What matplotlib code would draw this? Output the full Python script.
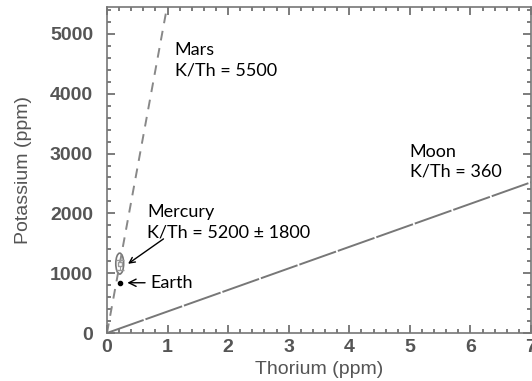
import numpy as np
import matplotlib.pyplot as plt
from matplotlib.patches import Ellipse
from matplotlib.ticker import MultipleLocator

# K/Th ratios of the reference lines
mars_kth = 5500
moon_kth = 360
mercury_kth = 5200
mercury_err = 1800

# Mercury and Earth points (Th ppm, K ppm)
mercury_th, mercury_k = 0.21, 1160
mercury_th_w, mercury_k_h = 0.13, 350
earth_th, earth_k = 0.21, 840

th = np.array([0, 7])

fig = plt.figure(figsize=(5.32, 3.81), dpi=100)
ax = fig.add_axes([107 / 532, 48 / 381, 424 / 532, 326 / 381])

ax.plot(th, th * mars_kth, color="#888888", lw=1.4, ls=(0, (5, 4)))
ax.plot(th, th * moon_kth, color="#777777", lw=1.4, ls=(0, (20, 1)))

ax.add_patch(Ellipse((mercury_th, mercury_k), mercury_th_w, mercury_k_h,
                     fill=False, ec="#777777", lw=1.2))
ax.errorbar([mercury_th], [mercury_k], yerr=[[100], [60]], fmt="s", ms=3,
            color="#999999", mfc="white", capsize=3, lw=0.8)
ax.plot([earth_th], [earth_k], "o", color="black", ms=3)

ann_font = ["Lato", "DejaVu Sans"]
ax.text(1.12, 4560, "Mars\nK/Th = %d" % mars_kth, fontsize=13,
        family=ann_font, va="center", linespacing=1.3)
ax.text(5.0, 2860, "Moon\nK/Th = %d" % moon_kth, fontsize=13,
        family=ann_font, va="center", linespacing=1.3)
ax.text(0.66, 1850, "Mercury\nK/Th = %d \u00b1 %d" % (mercury_kth, mercury_err),
        fontsize=13, family=ann_font, va="center", linespacing=1.3)
ax.annotate("", xy=(0.31, 1130), xytext=(0.97, 1600),
            arrowprops=dict(arrowstyle="->", color="black", lw=1))
ax.annotate("Earth", xy=(0.29, earth_k), xytext=(0.72, earth_k),
            fontsize=13, family=ann_font, va="center",
            arrowprops=dict(arrowstyle="->", color="black", lw=1))

ax.set_xlim(0, 7)
ax.set_ylim(0, 5450)
ax.xaxis.set_major_locator(MultipleLocator(1))
ax.xaxis.set_minor_locator(MultipleLocator(0.2))
ax.yaxis.set_major_locator(MultipleLocator(1000))
ax.yaxis.set_minor_locator(MultipleLocator(200))
ax.tick_params(which="both", direction="in", top=True, right=True,
               color="#666666", labelcolor="#555555", labelsize=14)
ax.tick_params(which="major", length=6, width=1.2)
ax.tick_params(which="minor", length=3, width=1.2)
ax.tick_params(axis="y", pad=10)
ax.tick_params(axis="x", pad=4)
for lab in ax.get_xticklabels() + ax.get_yticklabels():
    lab.set_family("Liberation Sans")
    lab.set_fontweight("bold")
for s in ax.spines.values():
    s.set_color("#777777")
    s.set_linewidth(1.2)

ax.set_xlabel("Thorium (ppm)", fontsize=14, color="#555555",
              family="Liberation Sans", labelpad=4)
ax.set_ylabel("Potassium (ppm)", fontsize=14, color="#555555",
              family="Liberation Sans", labelpad=13)

fig.savefig("out.png", dpi=100)
